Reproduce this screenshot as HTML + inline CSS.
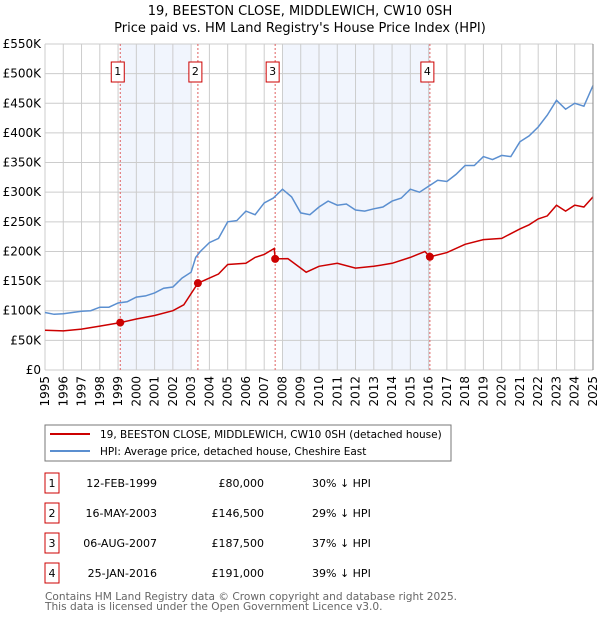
<!DOCTYPE html>
<html><head><meta charset="utf-8"><style>
body{margin:0;background:#fff;font-family:"Liberation Sans","DejaVu Sans",sans-serif;}
svg{display:block}
</style></head><body>
<svg id="c" width="600" height="620" font-family="DejaVu Sans, Liberation Sans, sans-serif">
<text x="300" y="15" text-anchor="middle" font-size="13">19, BEESTON CLOSE, MIDDLEWICH, CW10 0SH</text>
<text x="300" y="32" text-anchor="middle" font-size="13">Price paid vs. HM Land Registry's House Price Index (HPI)</text>
<g id="plot"></g>
<rect x="45" y="425" width="406" height="36" fill="#fff" stroke="#777"/>
<line x1="50" y1="434" x2="90" y2="434" stroke="#cc0000" stroke-width="2"/>
<text x="100" y="438" font-size="10.5">19, BEESTON CLOSE, MIDDLEWICH, CW10 0SH (detached house)</text>
<line x1="50" y1="451" x2="90" y2="451" stroke="#5b8fd0" stroke-width="2"/>
<text x="100" y="455" font-size="10.5">HPI: Average price, detached house, Cheshire East</text>
<g id="table" font-size="11"></g>
<text x="45" y="600" font-size="10.6" fill="#666">Contains HM Land Registry data © Crown copyright and database right 2025.</text>
<text x="45" y="610" font-size="10.6" fill="#666">This data is licensed under the Open Government Licence v3.0.</text>
</svg>
<script>
const yearTicks=[1995,1996,1997,1998,1999,2000,2001,2002,2003,2004,2005,2006,2007,2008,2009,2010,2011,2012,2013,2014,2015,2016,2017,2018,2019,2020,2021,2022,2023,2024,2025];
const priceTicks=[0,50,100,150,200,250,300,350,400,450,500,550];
const priceLabels=["£0","£50K","£100K","£150K","£200K","£250K","£300K","£350K","£400K","£450K","£500K","£550K"];
const hpiYears=[1995,1995.5,1996,1996.5,1997,1997.5,1998,1998.5,1999,1999.5,2000,2000.5,2001,2001.5,2002,2002.5,2003,2003.25,2003.5,2004,2004.5,2005,2005.5,2006,2006.5,2007,2007.5,2008,2008.5,2009,2009.5,2010,2010.5,2011,2011.5,2012,2012.5,2013,2013.5,2014,2014.5,2015,2015.5,2016,2016.5,2017,2017.5,2018,2018.5,2019,2019.5,2020,2020.5,2021,2021.5,2022,2022.5,2023,2023.5,2024,2024.5,2025];
const hpiValues=[97,94,95,97,99,100,106,106,113,115,123,125,130,138,140,155,165,190,200,215,222,250,252,268,262,282,290,305,292,265,262,275,285,278,280,270,268,272,275,285,290,305,300,310,320,318,330,345,345,360,355,362,360,385,395,410,430,455,440,450,445,480];
const propYears=[1995,1996,1997,1998,1999.12,2000,2001,2002,2002.6,2003.37,2004,2004.5,2005,2006,2006.5,2007,2007.55,2007.6,2008.3,2009,2009.3,2010,2011,2012,2013,2014,2015,2015.8,2016.07,2017,2018,2019,2020,2021,2021.5,2022,2022.5,2023,2023.5,2024,2024.5,2025];
const propValues=[67,66,69,74,80,86,92,100,110,146.5,155,162,178,180,190,195,205,187.5,188,172,165,175,180,172,175,180,190,200,191,198,212,220,222,238,245,255,260,278,268,278,275,292];
const saleLabels=["1","2","3","4"];
const saleYears=[1999.12,2003.37,2007.6,2016.07];
const saleValues=[80,146.5,187.5,191];
const shadeStarts=[1999.12,2008.0];
const shadeEnds=[2003.0,2016.07];
const saleDates=["12-FEB-1999","16-MAY-2003","06-AUG-2007","25-JAN-2016"];
const salePrices=["£80,000","£146,500","£187,500","£191,000"];
const saleDiffs=["30% ↓ HPI","29% ↓ HPI","37% ↓ HPI","39% ↓ HPI"];
const NS="http://www.w3.org/2000/svg";
const X0=45,X1=593,Y0=370,Y1=44;
const xs=y=>X0+(y-1995)/30*(X1-X0);
const ys=v=>Y0-v/550*(Y0-Y1);
const plot=document.getElementById('plot');
function mk(tag,at,parent){const e=document.createElementNS(NS,tag);for(const k in at)e.setAttribute(k,at[k]);(parent||plot).appendChild(e);return e;}
shadeStarts.forEach((s,i)=>{const r=mk('rect',{x:xs(s),y:Y1,width:xs(shadeEnds[i])-xs(s),height:Y0-Y1,fill:'#eef3fc',opacity:0.8});

});
yearTicks.forEach(y=>{const l=mk('line',{x1:xs(y),x2:xs(y),y1:Y1,y2:Y0,stroke:'#ccc'});


const t=mk('text',{x:0,y:0,'font-size':12,'text-anchor':'end',transform:`translate(${xs(y)+4},${Y0+6}) rotate(-90)`});t.textContent=y;

});
priceTicks.forEach((v,i)=>{const l=mk('line',{x1:X0,x2:X1,y1:ys(v),y2:ys(v),stroke:'#ccc'});


const t=mk('text',{x:41,y:ys(v)+4,'font-size':12,'text-anchor':'end'});t.textContent=priceLabels[i];

});
saleYears.forEach((y,i)=>{const l=mk('line',{x1:xs(y),x2:xs(y),y1:Y1,y2:Y0,stroke:'#e06060','stroke-dasharray':'2,2'});


const r=mk('rect',{x:xs(y)-9,y:62,width:13,height:20,fill:'#fff',stroke:'#cc0000'});


const t=mk('text',{x:xs(y)-2.5,y:75,'font-size':11,'text-anchor':'middle'});t.textContent=saleLabels[i];

});
function path(xa,va,col,name){const d=xa.map((y,i)=>(i?'L':'M')+xs(y).toFixed(1)+','+ys(va[i]).toFixed(1)).join('');
const p=mk('path',{d:d,fill:'none',stroke:col,'stroke-width':1.5});

}
path(hpiYears,hpiValues,'#5b8fd0','hpi-line');
path(propYears,propValues,'#cc0000','property-price-line');
saleYears.forEach((y,i)=>{const c=mk('circle',{cx:xs(y),cy:ys(saleValues[i]),r:4,fill:'#cc0000'});

});
mk('line',{x1:X1,x2:X1,y1:Y1,y2:Y0,stroke:'#888'});
const tb=document.getElementById('table');
saleLabels.forEach((s,i)=>{const cy=483+i*30;
const r=mk('rect',{x:45,y:cy-10,width:14,height:20,fill:'#fff',stroke:'#cc0000'},tb);


const cells=[[52,'middle',s,'table-index'],[157,'end',saleDates[i],'table-date'],[264,'end',salePrices[i],'table-price'],[312,'start',saleDiffs[i],'table-hpi-diff']];
cells.forEach(c=>{const t=mk('text',{x:c[0],y:cy+4,'text-anchor':c[1]},tb);t.textContent=c[2];

});});
</script>
</body></html>
